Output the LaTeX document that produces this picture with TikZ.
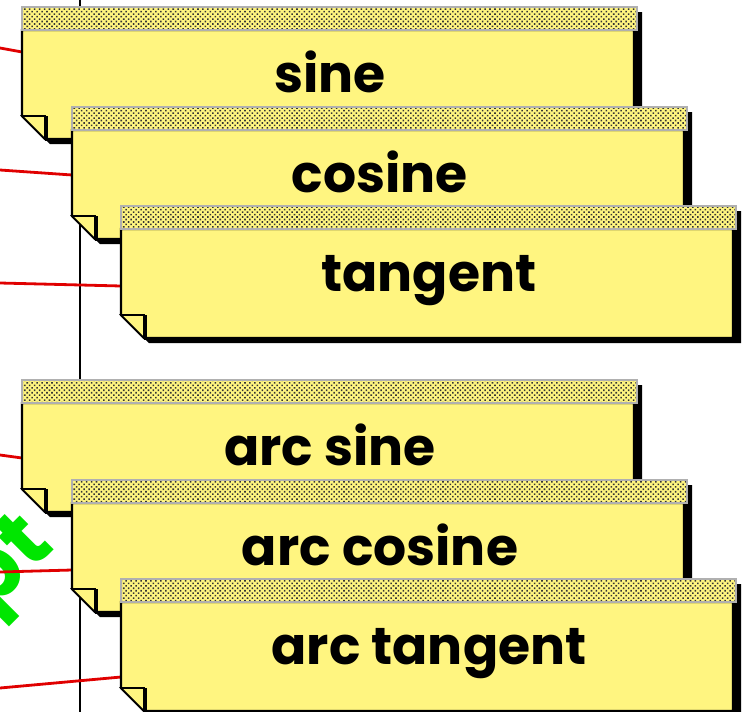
\documentclass[tikz,border=0pt]{standalone}
\usepackage{fontspec}
\usetikzlibrary{calc,patterns.meta}
\newfontfamily\cardfont{Poppins}
\definecolor{noteyellow}{HTML}{FFF580}
\definecolor{headgray}{HTML}{B0B0B0}
\definecolor{linkred}{HTML}{E00000}
\definecolor{tagreen}{HTML}{00E600}
\tikzset{
  cardshadow/.style={fill=black},
  cardbody/.style={fill=noteyellow, draw=black, line width=2.2pt, line join=miter},
  cardflap/.style={fill=noteyellow, draw=black, line width=1.6pt},
  flapedge/.style={draw=black, line width=3.5pt},
  cardhead/.style={draw=headgray, line width=2.4pt,
    preaction={fill=noteyellow},
    pattern={Dots[distance=3.5pt, radius=1.1pt, angle=45]}, pattern color=black!80},
  cardtext/.style={font=\cardfont\bfseries\fontsize{52}{60}\selectfont, anchor=base},
  link/.style={draw=linkred, line width=2.8pt},
  spine/.style={draw=black, line width=2.4pt},
}
% A note card whose header's top-left corner sits at (#2,#3)
\newcommand\notecard[4]{%
  \begin{scope}[shift={(#2,#3)}]
    \coordinate (#1) at (0,0);
    \fill[cardshadow] (5,5) -- (620,5) -- (620,137) -- (28,137) -- (5,114) -- cycle;
    \filldraw[cardbody] (0,23) -- (612,23) -- (612,132) -- (23,132) -- (0,109) -- cycle;
    \filldraw[cardflap] (0,109) -- (23,109) -- (23,132) -- cycle;
    \draw[flapedge] (24.5,109) -- (24.5,134);
    \draw[cardhead] (0,0) rectangle (615,23);
    \node[cardtext] (#1-label) at (308,85) {#4};
  \end{scope}}
\begin{document}
\begin{tikzpicture}[x=1pt, y=-1pt]
  \useasboundingbox (0,0) rectangle (742,712);
  \clip (0,0) rectangle (742,712);

  % rotated tag at the left margin
  \node[font=\cardfont\bfseries\fontsize{86}{90}\selectfont, text=tagreen,
        rotate=45, anchor=base east, inner sep=0pt] (tag) at (56,548) {pt};

  % vertical spine behind the cards
  \coordinate (spinetop) at (80,0);
  \coordinate (spinebot) at (80,712);
  \draw[spine] (spinetop) -- (spinebot);

  % free ends of the incoming links
  \coordinate (in1) at (0,48);
  \coordinate (in2) at (0,170);
  \coordinate (in3) at (0,283);
  \coordinate (in4) at (0,455);
  \coordinate (in5) at (0,572);
  \coordinate (in6) at (0,688);

  % card anchors (header corners), needed by the links drawn below the cards
  \coordinate (c1) at (22,7);
  \coordinate (c2) at (72,107);
  \coordinate (c3) at (121,206);
  \coordinate (c4) at (22,380);
  \coordinate (c5) at (72,480);
  \coordinate (c6) at (121,579);

  \draw[link] (in1) -- ($(c1)+(0,45)$);
  \draw[link] (in2) -- ($(c2)+(0,68)$);
  \draw[link] (in3) -- ($(c3)+(0,80)$);
  \draw[link] (in4) -- ($(c4)+(0,78)$);
  \draw[link] (in5) -- ($(c5)+(0,90)$);
  \draw[link] (in6) -- ($(c6)+(0,98)$);

  \notecard{sine}{22}{7}{sine}
  \notecard{cosine}{72}{107}{cosine}
  \notecard{tangent}{121}{206}{tangent}
  \notecard{asine}{22}{380}{arc sine}
  \notecard{acosine}{72}{480}{arc cosine}
  \notecard{atangent}{121}{579}{arc tangent}
\end{tikzpicture}
\end{document}
